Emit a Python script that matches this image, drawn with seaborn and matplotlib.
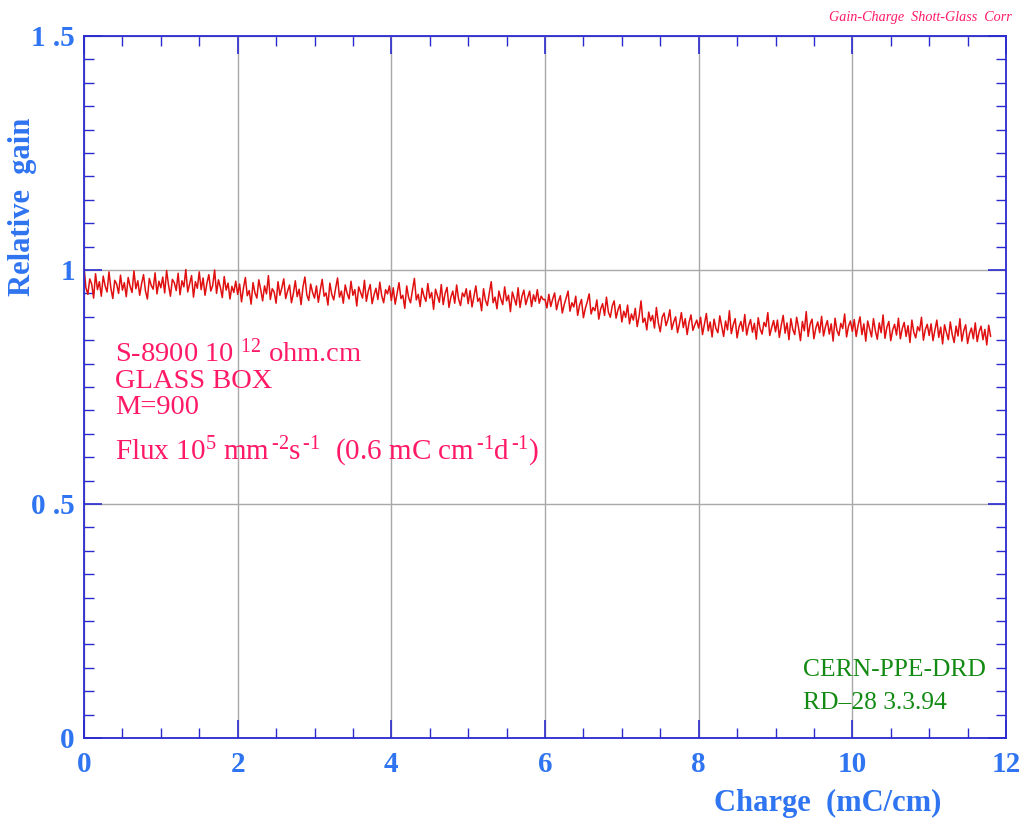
import numpy as np
import pandas as pd
import matplotlib
matplotlib.use("Agg")
import matplotlib.pyplot as plt
from matplotlib.ticker import MultipleLocator, FixedLocator, FixedFormatter
import seaborn as sns

# ---------------- data ----------------
charge_start = 0.0
charge_end = 11.8
# relative gain, in thousandths, sampled uniformly along the charge axis (40 per mC/cm)
gain_milli = [
    1005, 962, 948, 981, 970, 940, 992, 958, 975, 944, 987, 966, 953, 996, 961, 939, 978, 970, 950, 989,
    957, 973, 943, 984, 965, 952, 998, 960, 977, 946, 971, 990, 955, 938, 982, 967, 959, 994, 949, 976,
    962, 985, 951, 999, 968, 944, 980, 973, 956, 993, 947, 977, 964, 1001, 953, 970, 988, 942, 975, 961,
    996, 958, 983, 946, 972, 990, 955, 967, 1000, 950, 979, 963, 941, 986, 957, 972, 938, 965, 952, 976,
    948, 970, 932, 961, 984, 945, 956, 927, 973, 951, 940, 979, 958, 934, 966, 949, 988, 937, 960, 953,
    929, 975, 946, 962, 981, 939, 955, 968, 930, 950, 977, 943, 959, 926, 964, 985, 947, 935, 970, 952,
    940, 966, 931, 957, 980, 944, 951, 925, 972, 948, 936, 961, 983, 942, 955, 929, 968, 950, 938, 976,
    946, 958, 923, 964, 952, 940, 978, 933, 955, 969, 928, 947, 961, 937, 974, 945, 930, 958, 949, 966,
    935, 962, 927, 950, 973, 939, 946, 918, 966, 941, 930, 957, 982, 936, 948, 922, 961, 944, 933, 971,
    940, 952, 916, 959, 945, 931, 969, 926, 950, 963, 920, 942, 955, 929, 968, 938, 924, 951, 943, 960,
    928, 956, 921, 944, 966, 933, 940, 913, 960, 935, 924, 951, 975, 930, 942, 917, 955, 938, 926, 964,
    934, 946, 911, 953, 939, 925, 962, 920, 944, 957, 926, 941, 955, 922, 947, 933, 958, 929, 944, 937,
    937, 919, 948, 922, 938, 951, 915, 933, 945, 908, 926, 940, 955, 912, 930, 921, 944, 903, 925, 937,
    898, 918, 932, 949, 906, 920, 913, 936, 895, 917, 928, 903, 942, 910, 899, 923, 934, 897, 915, 926,
    889, 912, 899, 925, 885, 906, 893, 918, 879, 902, 934, 888, 897, 872, 910, 891, 903, 876, 920, 887,
    868, 899, 908, 881, 894, 915, 873, 889, 900, 866, 885, 909, 877, 896, 862, 888, 904, 871, 883, 893,
    876, 899, 862, 884, 907, 870, 889, 857, 895, 875, 866, 902, 880, 858, 891, 872, 913, 864, 883, 896,
    855, 878, 890, 869, 905, 861, 881, 894, 867, 886, 852, 898, 874, 863, 888, 879, 909, 860, 877, 892,
    868, 893, 856, 882, 903, 865, 887, 851, 896, 873, 862, 899, 877, 849, 890, 870, 911, 858, 884, 895,
    853, 876, 889, 866, 901, 859, 879, 892, 863, 885, 848, 897, 871, 860, 886, 875, 906, 857, 880, 891,
    869, 894, 858, 882, 900, 862, 885, 848, 891, 874, 857, 896, 870, 852, 887, 866, 904, 854, 878, 890,
    849, 872, 884, 861, 897, 853, 875, 888, 858, 881, 845, 893, 867, 855, 879, 870, 899, 850, 873, 884,
    860, 885, 849, 872, 893, 856, 878, 842, 883, 866, 851, 889, 862, 845, 880, 859, 896, 848, 870, 883,
    843, 864, 876, 853, 887, 847, 868, 880, 851, 873, 840, 882, 858,
]
x_ticks = [0, 2, 4, 6, 8, 10, 12]
x_tick_labels = ["0", "2", "4", "6", "8", "10", "12"]
y_ticks = [0, 0.5, 1, 1.5]
y_tick_labels = ["0", "0 .5", "1", "1 .5"]
title_text = "Gain-Charge  Shott-Glass  Corr"
x_label = "Charge  (mC/cm)"
y_label = "Relative  gain"
info_lines = [
    r"S-8900 10 $^{12}$ ohm.cm",
    "GLASS BOX",
    "M=900",
]
flux_line = (r"Flux 10$^{5}$ mm$^{\,\text{-}2}$s$^{\,\text{-}1}$  "
             r"(0.6 mC cm$^{\,\text{-}1}$d$^{\,\text{-}1}$)")
lab_lines = ["CERN-PPE-DRD", "RD\u201328 3.3.94"]

gain = np.array(gain_milli) / 1000.0
charge = np.linspace(charge_start, charge_end, len(gain))
df = pd.DataFrame({"charge": charge, "gain": gain})

# ---------------- style ----------------
sns.set_style("white")
plt.rcParams["font.family"] = ["Liberation Serif", "DejaVu Serif"]
plt.rcParams["mathtext.fontset"] = "custom"
plt.rcParams["mathtext.rm"] = "Liberation Serif"
plt.rcParams["mathtext.it"] = "Liberation Serif:italic"
plt.rcParams["mathtext.bf"] = "Liberation Serif:bold"

BLUE_TXT = "#2f74f0"
SPINE = "#2a2ad0"
PINK = "#ff1a66"
RED = "#e01010"
GREEN = "#138a13"

W, H = 1026, 823
fig = plt.figure(figsize=(W / 100, H / 100), dpi=100)
ax = fig.add_axes([84 / W, 1 - 738 / H, (1006 - 84) / W, (738 - 36) / H])

sns.lineplot(data=df, x="charge", y="gain", ax=ax, color=RED, linewidth=1.1,
             estimator=None, sort=False, legend=False)

ax.set_xlim(0, 12)
ax.set_ylim(0, 1.5)

ax.xaxis.set_major_locator(FixedLocator(x_ticks))
ax.xaxis.set_major_formatter(FixedFormatter(x_tick_labels))
ax.yaxis.set_major_locator(FixedLocator(y_ticks))
ax.yaxis.set_major_formatter(FixedFormatter(y_tick_labels))
ax.xaxis.set_minor_locator(MultipleLocator(0.5))
ax.yaxis.set_minor_locator(MultipleLocator(0.05))

ax.grid(True, which="major", color="#a8a8a8", linewidth=1.0)
ax.set_axisbelow(True)

for s in ax.spines.values():
    s.set_color(SPINE)
    s.set_linewidth(1.3)
    s.set_visible(True)

ax.tick_params(which="both", direction="in", top=True, right=True,
               bottom=True, left=True, color=SPINE)
ax.tick_params(which="major", length=13, width=1.2)
ax.tick_params(which="minor", length=7, width=1.0)
ax.tick_params(axis="x", which="major", pad=9.5)
ax.tick_params(axis="y", which="major", pad=6.5)
for lab in ax.get_xticklabels() + ax.get_yticklabels():
    lab.set_fontsize(21)
    lab.set_fontweight("bold")
    lab.set_color(BLUE_TXT)

ax.set_xlabel("")
ax.set_ylabel("")
fig.text(828 / W, 1 - 803 / H, x_label, fontsize=22, fontweight="bold", color=BLUE_TXT,
         ha="center", va="center")
fig.text(23 / W, 1 - 207 / H, y_label, fontsize=22, fontweight="bold", color=BLUE_TXT,
         ha="center", va="center", rotation=90)

# annotations
line_y = [353, 381, 408]
for txt, yp in zip(info_lines, line_y):
    fig.text(115 / W, 1 - yp / H, txt, fontsize=20.5, color=PINK, va="center", ha="left")
fig.text(115 / W, 1 - 452 / H, flux_line, fontsize=21, color=PINK, va="center", ha="left")

for txt, yp in zip(lab_lines, [670, 703]):
    fig.text(803 / W, 1 - yp / H, txt, fontsize=18.4, color=GREEN, va="center", ha="left")

fig.text(1012 / W, 1 - 17 / H, title_text, fontsize=10.2, color=PINK,
         style="italic", va="center", ha="right")

fig.savefig("out.png", dpi=100, facecolor="white")
